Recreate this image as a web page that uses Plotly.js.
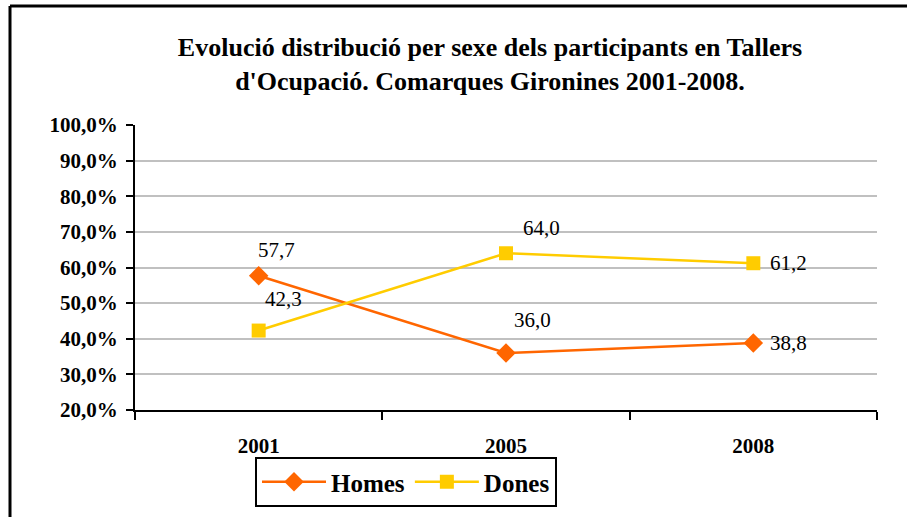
<!DOCTYPE html>
<html>
<head>
<meta charset="utf-8">
<script src="https://cdn.plot.ly/plotly-3.0.1.min.js"></script>
<style>html,body{margin:0;padding:0;background:#fff;}#chart{width:907px;height:517px;}</style>
</head>
<body>
<div id="chart"></div>
<script>
const years = ['2001', '2005', '2008'];
const homes = [57.7, 36.0, 38.8];
const dones = [42.3, 64.0, 61.2];
const seriesNames = ['Homes', 'Dones'];
const titleLine1 = 'Evolució distribució per sexe dels participants en Tallers';
const titleLine2 = "d'Ocupació. Comarques Gironines 2001-2008.";

// label offsets (pixels) for each series point
const homesLabelShift = [[18, 26], [26, 33], [35, 0]];
const donesLabelShift = [[25, 32], [35, 25], [35, 0]];

const serif = 'Liberation Serif';
const fmt = v => v.toFixed(1).replace('.', ',');

const traces = [
  {
    x: years, y: homes, name: seriesNames[0], type: 'scatter', mode: 'lines+markers',
    line: {color: '#FF6600', width: 2.5},
    marker: {symbol: 'diamond', size: 15, color: '#FF6600'},
    hoverinfo: 'skip'
  },
  {
    x: years, y: dones, name: seriesNames[1], type: 'scatter', mode: 'lines+markers',
    line: {color: '#FFCC00', width: 2.5},
    marker: {symbol: 'square', size: 14, color: '#FFCC00'},
    hoverinfo: 'skip'
  }
];

const annotations = [];
const seriesForLabels = [[homes, homesLabelShift], [dones, donesLabelShift]];
seriesForLabels.forEach(function (pair) {
  const vals = pair[0], shifts = pair[1];
  vals.forEach(function (v, i) {
    annotations.push({
      x: i, y: v, xref: 'x', yref: 'y', text: fmt(v), showarrow: false,
      xshift: shifts[i][0], yshift: shifts[i][1],
      font: {family: serif, size: 21, color: '#000'}
    });
  });
});

const L = 135, R = 877, T = 125, B = 410, W = 907, H = 517;
const pw = R - L, ph = B - T;
const px = X => (X - L) / pw;
const py = Y => (B - Y) / ph;

const layout = {
  width: W, height: H,
  margin: {l: L, r: W - R, t: T, b: H - B, pad: 0, autoexpand: false},
  paper_bgcolor: '#fff', plot_bgcolor: '#fff',
  title: {
    text: '<b>' + titleLine1 + '<br>' + titleLine2 + '</b>',
    x: 490 / W, xanchor: 'center', xref: 'container',
    y: 1 - 56 / H, yanchor: 'top', yref: 'container',
    font: {family: serif, size: 26, color: '#000'}
  },
  showlegend: true,
  legend: {
    orientation: 'h', x: px(406), xanchor: 'center', y: py(457), yanchor: 'top',
    bordercolor: '#000', borderwidth: 2, bgcolor: '#fff',
    font: {family: serif, size: 25, color: '#000', weight: 'bold'},
    itemwidth: 64, traceorder: 'normal'
  },
  xaxis: {
    type: 'category', range: [-0.5, 2.5], tickson: 'boundaries',
    showline: true, linecolor: '#000', linewidth: 2,
    ticks: 'outside', ticklen: 8, tickwidth: 2, tickcolor: '#000',
    showgrid: false, zeroline: false, ticklabelstandoff: 16,
    tickfont: {family: serif, size: 21, color: '#000', weight: 'bold'}
  },
  yaxis: {
    range: [20, 100], dtick: 10, tick0: 20,
    tickformat: '.1f', ticksuffix: '%',
    showline: true, linecolor: '#000', linewidth: 2,
    ticks: 'outside', ticklen: 7, tickwidth: 2, tickcolor: '#000',
    showgrid: true, gridcolor: '#C0C0C0', gridwidth: 2, zeroline: false,
    ticklabelstandoff: 4,
    tickfont: {family: serif, size: 21, color: '#000', weight: 'bold'}
  },
  separators: ',.',
  annotations: annotations,
  shapes: [
    {type: 'line', xref: 'paper', yref: 'paper', x0: px(10), x1: px(10), y0: py(H + 5), y1: py(6), line: {color: '#000', width: 3}},
    {type: 'line', xref: 'paper', yref: 'paper', x0: px(10), x1: px(W + 5), y0: py(6), y1: py(6), line: {color: '#000', width: 3}}
  ]
};

Plotly.newPlot('chart', traces, layout, {displayModeBar: false, staticPlot: true});
</script>
</body>
</html>
